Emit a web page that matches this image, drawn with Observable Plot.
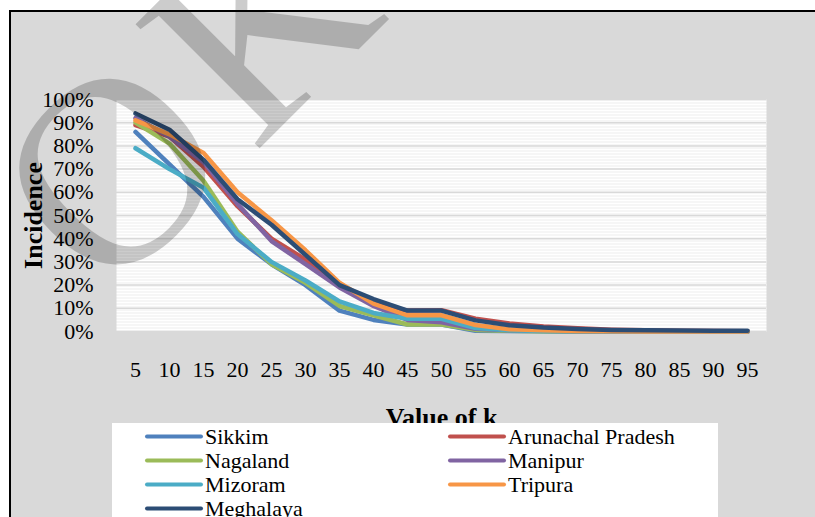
<!DOCTYPE html>
<html>
<head>
<meta charset="utf-8">
<script src="https://cdn.jsdelivr.net/npm/d3@7"></script>
<script src="https://cdn.jsdelivr.net/npm/@observablehq/plot@0.6"></script>
<style>
  html, body { margin: 0; padding: 0; background: #d9d9d9; overflow: hidden; width: 815px; height: 517px; }
  #chart { width: 815px; height: 517px; }
  #chart svg { display: block; max-width: none !important; }
</style>
</head>
<body>
<div id="chart"></div>
<script>
// Incidence (%) by value of k for seven north-eastern states
const kValues = [5, 10, 15, 20, 25, 30, 35, 40, 45, 50, 55, 60, 65, 70, 75, 80, 85, 90, 95];
const states = ["Sikkim", "Arunachal Pradesh", "Nagaland", "Manipur", "Mizoram", "Tripura", "Meghalaya"];
const colors = ["#4f81bd", "#c0504d", "#9bbb59", "#8064a2", "#4bacc6", "#f79646", "#2c4d75"];

const sikkim    = [86, 72, 58, 40, 29, 20, 9, 5, 3, 3, 0.3, 0.2, 0.1, 0.1, 0, 0, 0, 0, 0];
const arunachal = [89, 84, 71, 54, 40, 31, 20, 12, 9, 9.2, 5.5, 3.5, 2.2, 1.4, 0.8, 0.5, 0.3, 0.2, 0.1];
const nagaland  = [90, 81, 65, 43, 29, 21, 11, 7, 3, 3, 0.7, 0.3, 0.1, 0, 0, 0, 0, 0, 0];
const manipur   = [92, 84, 73, 55, 39, 29, 19, 11, 5, 4, 1.2, 0.5, 0.3, 0.1, 0, 0, 0, 0, 0];
const mizoram   = [79, 70, 62, 42, 30, 22, 13, 8, 5.5, 5.5, 1.5, 0.5, 0.2, 0.1, 0, 0, 0, 0, 0];
const tripura   = [91, 85, 77, 60, 48, 35, 21, 12, 7, 7, 2.8, 1, 0.5, 0.2, 0.1, 0, 0, 0, 0];
const meghalaya = [94, 87, 74, 57, 46, 33, 20, 14, 9, 9, 4.8, 2.7, 1.7, 1.1, 0.7, 0.5, 0.4, 0.3, 0.3];

const yTicks = [0, 10, 20, 30, 40, 50, 60, 70, 80, 90, 100];
const series = [sikkim, arunachal, nagaland, manipur, mizoram, tripura, meghalaya];

const rows = states.flatMap((s, i) => series[i].map((v, j) => ({state: s, k: kValues[j], v})));

const serif = "'Liberation Serif', 'Times New Roman', serif";

const chart = Plot.plot({
  width: 815,
  height: 517,
  marginLeft: 116,
  marginRight: 49,
  marginTop: 99,
  marginBottom: 186,
  style: {fontFamily: serif, fontSize: "22px", color: "#000", background: "transparent", overflow: "hidden"},
  x: {type: "point", domain: kValues, padding: 0.5, label: null},
  y: {domain: [0, 100], label: null},
  color: {domain: states, range: colors},
  marks: [
    Plot.frame({fill: "url(#hstripes)", stroke: "none"}),
    Plot.ruleY(yTicks, {stroke: "#d9d9d9", strokeWidth: 1.5}),
    Plot.line(rows, {x: "k", y: "v", z: "state", stroke: "state", strokeWidth: 4.5,
      strokeLinejoin: "round", strokeLinecap: "round"}),
    Plot.axisY({ticks: yTicks, tickSize: 0, tickPadding: 23, tickFormat: d => d + "%", label: null, fontSize: 22}),
    Plot.axisX({tickSize: 0, tickPadding: 30, label: null, fontSize: 22}),
    Plot.text(["Incidence"], {frameAnchor: "left", dx: -83, rotate: -90, textAnchor: "middle",
      lineAnchor: "middle", fontWeight: "bold", fontSize: 26}),
    Plot.text(["Value of k"], {frameAnchor: "bottom", dy: 86, textAnchor: "middle",
      lineAnchor: "middle", fontWeight: "bold", fontSize: 26})
  ]
});

const svg = d3.select(chart);

// hatched fill for the plotting area
const defs = svg.insert("defs", ":first-child");
const pat = defs.append("pattern").attr("id", "hstripes")
  .attr("patternUnits", "userSpaceOnUse").attr("width", 8).attr("height", 3);
pat.append("rect").attr("width", 8).attr("height", 3).attr("fill", "#fff");
pat.append("rect").attr("width", 8).attr("height", 1).attr("fill", "#ececec");

// white page margin, gray chart area, and the border on its left and top edges
svg.insert("line", ":first-child")
  .attr("x1", 10).attr("x2", 10).attr("y1", 10).attr("y2", 517)
  .attr("stroke", "#000").attr("stroke-width", 2);
svg.insert("line", ":first-child")
  .attr("x1", 9).attr("x2", 815).attr("y1", 11).attr("y2", 11)
  .attr("stroke", "#000").attr("stroke-width", 2);
svg.insert("rect", ":first-child")
  .attr("x", 10).attr("y", 11).attr("width", 805).attr("height", 506).attr("fill", "#d9d9d9").attr("stroke", "none");
svg.insert("rect", ":first-child")
  .attr("x", 0).attr("y", 0).attr("width", 815).attr("height", 517).attr("fill", "#fff").attr("stroke", "none");

// legend box
const lg = svg.append("g").attr("text-anchor", "start");
lg.append("rect").attr("x", 112).attr("y", 423).attr("width", 606).attr("height", 100).attr("fill", "#fff").attr("stroke", "none");
states.forEach((s, i) => {
  const col = i % 2, row = Math.floor(i / 2);
  const x0 = col === 0 ? 147 : 450;
  const y0 = 436.5 + row * 24;
  lg.append("line").attr("x1", x0).attr("x2", x0 + 54).attr("y1", y0).attr("y2", y0)
    .attr("stroke", colors[i]).attr("stroke-width", 4).attr("stroke-linecap", "round");
  lg.append("text").attr("x", x0 + 58).attr("y", y0).attr("dy", "0.32em")
    .attr("text-anchor", "start")
    .attr("font-family", serif).attr("font-size", 22).attr("fill", "#000").text(s);
});

// watermark
svg.append("text")
  .attr("transform", "translate(106,302) rotate(-45)")
  .attr("text-anchor", "start")
  .attr("font-family", serif).attr("font-size", 268).attr("letter-spacing", 16)
  .attr("fill", "#000").attr("fill-opacity", 0.2).attr("stroke", "none")
  .text("OK");

// right edge of the chart area stays plain gray
svg.append("rect")
  .attr("x", 795).attr("y", 14).attr("width", 20).attr("height", 503)
  .attr("fill", "#d9d9d9").attr("stroke", "none");

document.getElementById("chart").appendChild(chart);
</script>
</body>
</html>
